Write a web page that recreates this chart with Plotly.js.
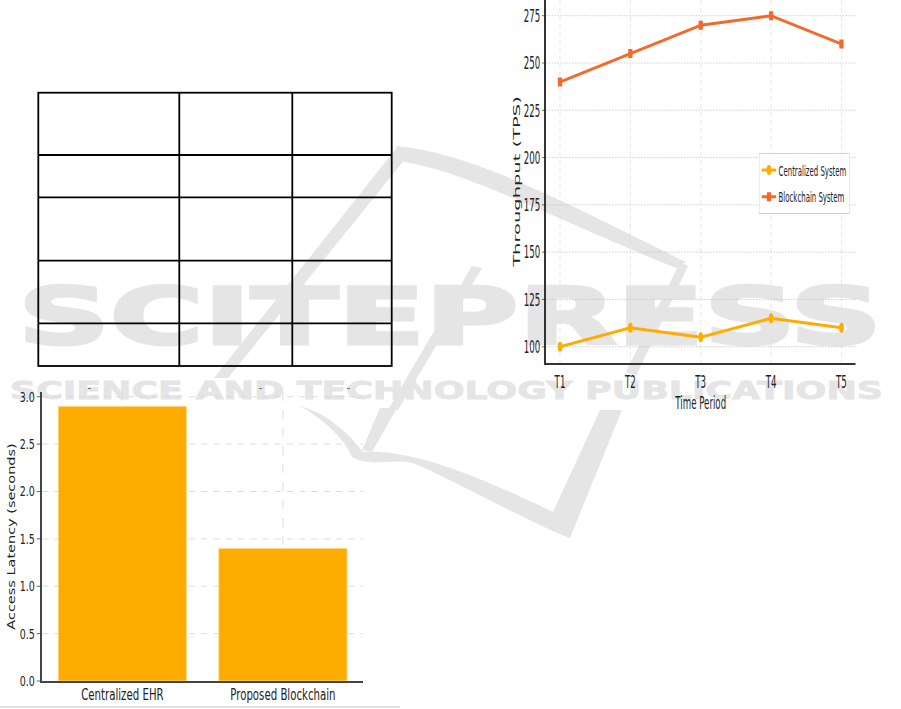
<!DOCTYPE html>
<html>
<head>
<meta charset="utf-8">
<script src="https://cdn.plot.ly/plotly-3.0.1.min.js"></script>
<style>
  html, body { margin: 0; padding: 0; background: #ffffff; }
  #page { position: relative; width: 901px; height: 709px; overflow: hidden; background: #ffffff; }
  #bg { position: absolute; left: 0; top: 0; z-index: 0; }
  #barChart { position: absolute; left: 0; top: 380px; width: 588px; height: 329px;
              transform: scaleX(0.68); transform-origin: 0 0; z-index: 2; }
  #lineChart { position: absolute; left: 460px; top: 0; width: 919px; height: 420px;
               transform: scaleX(0.48); transform-origin: 0 0; z-index: 2; }
</style>
</head>
<body>
<div id="page">
  <svg id="bg" width="901" height="709" xmlns="http://www.w3.org/2000/svg">
    <g fill="#e5e5e5" stroke="none">
      <text x="18" y="344" font-family="DejaVu Sans" font-weight="bold" font-size="79"
            stroke="#e5e5e5" stroke-width="3" stroke-linejoin="miter"
            textLength="864" lengthAdjust="spacingAndGlyphs">SCITEPRESS</text>
      <text x="10" y="399" font-family="DejaVu Sans" font-weight="bold" font-size="24"
            stroke="#e5e5e5" stroke-width="0.8"
            textLength="873" lengthAdjust="spacingAndGlyphs">SCIENCE AND TECHNOLOGY PUBLICATIONS</text>
      <path d="M214 378 L228 378 L406 158 L398 146 Z"/>
      <path d="M396 146 C470 152 560 200 686 262 L676 268 C560 222 470 172 404 162 Z"/>
      <path d="M680 262 L688 266 L636 376 L626 372 Z"/>
      <path d="M472 266 L482 268 L398 410 L388 410 Z"/>
      <path d="M380 408 L397 408 L372 452 L362 450 Z"/>
      <path d="M300 406 C322 412 345 428 363 452 C400 450 450 462 553 512 L600 410 L622 410 L570 538 C540 528 470 488 413 463 C390 458 372 468 352 457 C345 440 325 420 300 406 Z"/>
    </g>
    <g stroke="#000000" stroke-width="1.8" fill="none">
      <rect x="38.3" y="92.7" width="353.4" height="273.3"/>
      <line x1="179.3" y1="92.7" x2="179.3" y2="366"/>
      <line x1="292.3" y1="92.7" x2="292.3" y2="366"/>
      <line x1="38.3" y1="155" x2="391.7" y2="155"/>
      <line x1="38.3" y1="197.3" x2="391.7" y2="197.3"/>
      <line x1="38.3" y1="260.7" x2="391.7" y2="260.7"/>
      <line x1="38.3" y1="323.3" x2="391.7" y2="323.3"/>
    </g>
    <g fill="#777777">
      <rect x="88" y="388" width="3" height="1"/>
      <rect x="259" y="388" width="3" height="1"/>
      <rect x="347" y="388" width="3" height="1"/>
    </g>
    <rect x="0" y="706" width="400" height="2" fill="#e2e2e2"/>
  </svg>
  <div id="barChart"></div>
  <div id="lineChart"></div>
</div>
<script>
// ---- data ----
const barCategories = ['Centralized EHR', 'Proposed Blockchain'];
const latencySeconds = [2.9, 1.4];

const timePeriods = ['T1', 'T2', 'T3', 'T4', 'T5'];
const centralizedTPS = [100, 110, 105, 115, 110];
const blockchainTPS = [240, 255, 270, 275, 260];

const seriesNames = ['Centralized System', 'Blockchain System'];

// ---- bar chart (access latency) ----
const barColor = '#FFAC00';
Plotly.newPlot('barChart', [{
  type: 'bar',
  x: barCategories,
  y: latencySeconds,
  marker: { color: barColor, line: { color: '#FFE2A0', width: 1 } },
  hoverinfo: 'none'
}], {
  width: 588, height: 329,
  margin: { l: 62, r: 54, t: 12, b: 28 },
  paper_bgcolor: 'rgba(0,0,0,0)',
  plot_bgcolor: 'rgba(0,0,0,0)',
  bargap: 0.2,
  showlegend: false,
  font: { family: 'DejaVu Sans', color: '#222' },
  xaxis: {
    type: 'category', range: [-0.5, 1.5],
    showgrid: true, gridcolor: '#d6d6d6', griddash: 'dash', gridwidth: 1,
    showline: true, linecolor: '#444', linewidth: 2,
    ticks: '', ticklabelstandoff: -1,
    tickfont: { family: 'DejaVu Sans', size: 15, color: '#222' },
    zeroline: false, fixedrange: true
  },
  yaxis: {
    range: [0, 3.05], dtick: 0.5, tick0: 0, tickformat: '.1f',
    showgrid: true, gridcolor: '#d6d6d6', griddash: 'dash', gridwidth: 1,
    showline: true, linecolor: '#444', linewidth: 3,
    ticks: 'outside', ticklen: 5, tickcolor: '#444',
    tickfont: { family: 'DejaVu Sans', size: 14, color: '#222' },
    zeroline: false, fixedrange: true,
    title: { text: 'Access Latency (seconds)', standoff: 4,
             font: { family: 'DejaVu Sans', size: 14.5, color: '#222' } }
  }
}, { staticPlot: true, displayModeBar: false });

// ---- line chart (throughput) ----
const centralColor = '#FFAB00';
const chainColor = '#F4692A';
Plotly.newPlot('lineChart', [
  {
    type: 'scatter', mode: 'lines+markers',
    name: seriesNames[0], legendgroup: 'a',
    x: timePeriods, y: centralizedTPS,
    line: { color: centralColor, width: 3 },
    marker: { symbol: 'circle', size: 10, color: centralColor }
  },
  {
    type: 'scatter', mode: 'lines+markers',
    name: seriesNames[1], legendgroup: 'b',
    x: timePeriods, y: blockchainTPS,
    line: { color: chainColor, width: 3 },
    marker: { symbol: 'square', size: 9, color: chainColor }
  }
], {
  width: 919, height: 420,
  margin: { l: 179, r: 95, t: 0, b: 57 },
  paper_bgcolor: 'rgba(0,0,0,0)',
  plot_bgcolor: 'rgba(0,0,0,0)',
  font: { family: 'DejaVu Sans', color: '#222' },
  showlegend: true,
  legend: {
    x: 0.688, xanchor: 'left', y: 0.5785, yanchor: 'top',
    bgcolor: 'rgba(255,255,255,0.85)', bordercolor: '#d0d0d0', borderwidth: 1,
    font: { family: 'DejaVu Sans', size: 14.5, color: '#222' },
    traceorder: 'grouped', tracegroupgap: 5
  },
  xaxis: {
    type: 'category', range: [-0.2, 4.2],
    showgrid: true, gridcolor: '#dedede', griddash: '5px,3px', gridwidth: 1,
    showline: true, linecolor: '#333', linewidth: 2,
    ticks: '', ticklabelstandoff: 1,
    tickfont: { family: 'DejaVu Sans', size: 18, color: '#222' },
    zeroline: false, fixedrange: true,
    title: { text: 'Time Period', standoff: 6,
             font: { family: 'DejaVu Sans', size: 18, color: '#222' } }
  },
  yaxis: {
    range: [91.4, 283.3], dtick: 25, tick0: 0,
    showgrid: true, gridcolor: '#bdbdbd', griddash: 'dot', gridwidth: 1,
    showline: true, linecolor: '#333', linewidth: 4,
    ticks: 'outside', ticklen: 4, tickcolor: '#333',
    tickfont: { family: 'DejaVu Sans', size: 18, color: '#222' },
    zeroline: false, fixedrange: true,
    title: { text: 'Throughput (TPS)', standoff: 4,
             font: { family: 'DejaVu Sans', size: 19.5, color: '#222' } }
  }
}, { staticPlot: true, displayModeBar: false });
</script>
</body>
</html>
